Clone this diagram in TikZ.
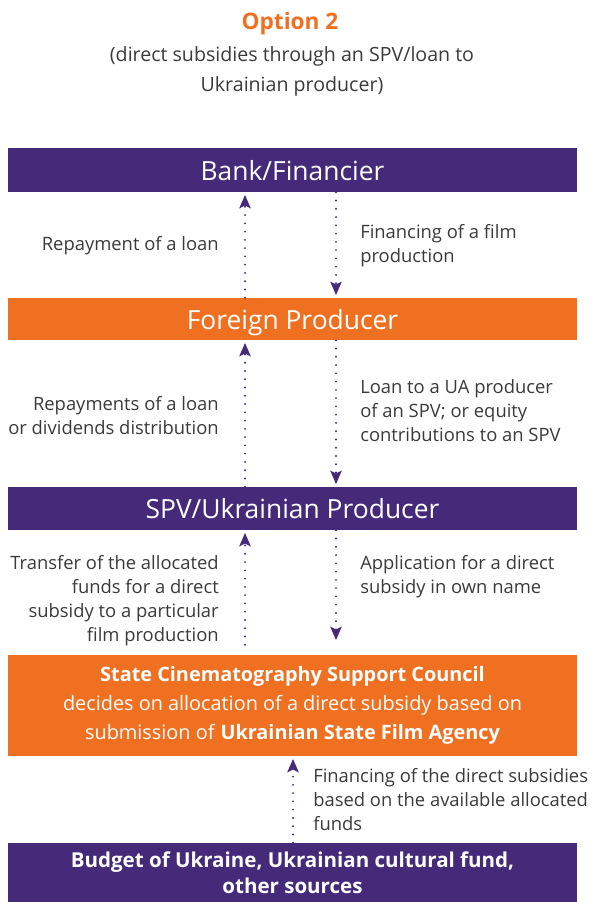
\documentclass[tikz,border=0pt]{standalone}
\usepackage{fontspec}
\setmainfont{Open Sans}
\usetikzlibrary{arrows.meta}
\definecolor{optpurple}{HTML}{452A7A}
\definecolor{optorange}{HTML}{F07022}
\definecolor{textgray}{HTML}{3A3A3A}
\tikzstyle{purplebox} = [rectangle, minimum width=426.75pt, text centered, inner sep=0pt, fill=optpurple, text=white]
\tikzstyle{orangebox} = [rectangle, minimum width=426.75pt, text centered, inner sep=0pt, fill=optorange, text=white]
\tikzstyle{boxtitle} = [font=\fontsize{19.8}{23}\selectfont, text height=19.6pt, text depth=4pt]
\tikzstyle{noteleft} = [anchor=north east, align=right, inner sep=0pt, text=textgray, font=\fontsize{13.8}{18}\selectfont]
\tikzstyle{noteright} = [anchor=north west, align=left, inner sep=0pt, text=textgray, font=\fontsize{13.8}{18}\selectfont]
\tikzstyle{arrow} = [draw=optpurple, line width=1.6pt, line cap=round, dash pattern=on 0pt off 6.2pt, -{Stealth[length=10pt, width=8.5pt, inset=2pt, line cap=butt]}, shorten >=2pt]

\begin{document}
\begin{tikzpicture}[x=0.75pt, y=-0.75pt]
    \useasboundingbox (0,0) rectangle (593,902);
    % heading
    \node [text=optorange, font=\bfseries\fontsize{17}{20}\selectfont] at (290,24) (title) {Option 2};
    \node [text=textgray, align=center, font=\fontsize{14.7}{22.5}\selectfont] at (292,71) (subtitle) {(direct subsidies through an SPV/loan to\\Ukrainian producer)};
    % boxes
    \node [purplebox, boxtitle, minimum height=33pt] at (292.5,170) (bank) {Bank/Financier};
    \node [orangebox, boxtitle, minimum height=31.5pt] at (292.5,319) (foreign) {Foreign Producer};
    \node [purplebox, boxtitle, minimum height=32.25pt] at (292.5,508.5) (spv) {SPV/Ukrainian Producer};
    \node [orangebox, align=center, minimum height=75.75pt, font=\fontsize{14.9}{21.75}\selectfont] at (292.5,705.5) (council) {\textbf{State Cinematography Support Council}\\decides on allocation of a direct subsidy based on\\submission of \textbf{Ukrainian State Film Agency}};
    \node [purplebox, align=center, minimum height=44.25pt, font=\bfseries\fontsize{15.4}{19.5}\selectfont] at (292.5,872.5) (budget) {Budget of Ukraine, Ukrainian cultural fund,\\other sources};
    % arrow columns
    \coordinate (up) at (245,0);
    \coordinate (down) at (336,0);
    \coordinate (mid) at (293,0);
    % arrows
    \draw [arrow] (foreign.north -| up) -- (bank.south -| up);
    \draw [arrow] (bank.south -| down) -- (foreign.north -| down);
    \draw [arrow] (spv.north -| up) -- (foreign.south -| up);
    \draw [arrow] (foreign.south -| down) -- (spv.north -| down);
    \draw [arrow, shorten <=7.5pt] (council.north -| up) -- (spv.south -| up);
    \draw [arrow, shorten >=11pt] (spv.south -| down) -- (council.north -| down);
    \draw [arrow] (budget.north -| mid) -- (council.south -| mid);
    % labels
    \node [noteleft] at (219,235.7) (repay) {Repayment of a loan};
    \node [noteright] at (360,223.7) (finance) {Financing of a film\\production};
    \node [noteleft] at (219,395.7) (dividends) {Repayments of a loan\\or dividends distribution};
    \node [noteright] at (360,379.7) (loan) {Loan to a UA producer\\of an SPV; or equity\\contributions to an SPV};
    \node [noteleft] at (219,554.7) (transfer) {Transfer of the allocated\\funds for a direct\\subsidy to a particular\\film production};
    \node [noteright] at (360,554.7) (application) {Application for a direct\\subsidy in own name};
    \node [noteright] at (313,767.7) (subsidies) {Financing of the direct subsidies\\based on the available allocated\\funds};
\end{tikzpicture}
\end{document}
